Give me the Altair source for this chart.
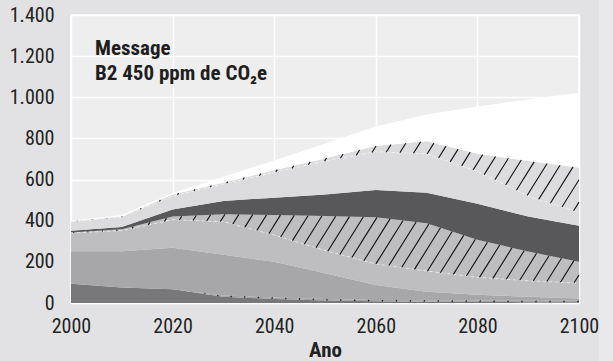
import numpy as np
import pandas as pd
import altair as alt

# ---- data -------------------------------------------------------------
years = [2000, 2010, 2020, 2030, 2040, 2050, 2060, 2070, 2080, 2090, 2100]

# layer thicknesses, bottom to top
camada_1 = [93, 75, 67, 30, 20, 12, 8, 6, 5, 4, 4]
camada_2 = [0, 0, 0, 6, 7, 7, 7, 7, 7, 7, 7]
camada_3 = [159, 177, 201, 198, 173, 126, 73, 42, 28, 19, 11]
camada_4 = [88, 100, 137, 161, 130, 110, 102, 100, 85, 78, 75]
camada_5 = [3, 6, 15, 37, 98, 168, 227, 233, 182, 142, 104]
camada_6 = [8, 12, 34, 64, 84, 105, 132, 148, 175, 170, 175]
camada_7 = [44, 48, 66, 82, 123, 162, 186, 189, 158, 100, 64]
camada_8 = [2, 2, 7, 7, 10, 13, 28, 61, 85, 170, 218]
camada_9 = [3, 8, 8, 29, 48, 72, 95, 130, 230, 300, 364]

layers = [camada_1, camada_2, camada_3, camada_4, camada_5,
          camada_6, camada_7, camada_8, camada_9]
names = [f"camada_{i + 1}" for i in range(len(layers))]
fills = ["#78787a", "#a2a2a4", "#a7a7a9", "#bebec0", "#bebec0",
         "#58585a", "#dcdcde", "#dcdcde", "#ffffff"]
hatched = {"camada_2", "camada_5", "camada_8"}

x_ticks = [2000, 2020, 2040, 2060, 2080, 2100]
y_ticks = [0, 200, 400, 600, 800, 1000, 1200, 1400]

FONT = "Roboto Condensed, Liberation Sans, sans-serif"
W, H = 508, 288
X_DOMAIN = [2000, 2100]
Y_DOMAIN = [0, 1400]

# ---- stacked boundaries ----------------------------------------------
arr = np.array(layers, dtype=float)
tops = np.cumsum(arr, axis=0)
bottoms = tops - arr

rows = []
for n, lo, hi in zip(names, bottoms, tops):
    for yr, a, b in zip(years, lo, hi):
        rows.append({"camada": n, "ano": yr, "lo": a, "hi": b})
area_df = pd.DataFrame(rows)

# ---- hatch lines ("/") clipped to a band ------------------------------
px_x = (X_DOMAIN[1] - X_DOMAIN[0]) / W
px_y = (Y_DOMAIN[1] - Y_DOMAIN[0]) / H
HATCH_RATIO = 1.6                      # rise over run in pixels
HATCH_STEP = 14 * px_x                 # horizontal spacing in years
slope = HATCH_RATIO * px_y / px_x      # value units per year


def hatch_segments(lo, hi, name):
    xs = np.linspace(X_DOMAIN[0], X_DOMAIN[1], 20001)
    lo_f = np.interp(xs, years, lo)
    hi_f = np.interp(xs, years, hi)
    segs = []
    start = X_DOMAIN[0] - hi.max() / slope
    for c in np.arange(start, X_DOMAIN[1], HATCH_STEP):
        yl = slope * (xs - c)
        inside = (yl >= lo_f) & (yl <= hi_f) & (hi_f - lo_f > 0.5)
        idx = np.flatnonzero(inside)
        if idx.size == 0:
            continue
        cuts = np.flatnonzero(np.diff(idx) > 1)
        starts = np.r_[idx[0], idx[cuts + 1]]
        ends = np.r_[idx[cuts], idx[-1]]
        for s, e in zip(starts, ends):
            if e > s:
                segs.append({"camada": name, "x": xs[s], "y": yl[s],
                             "x2": xs[e], "y2": yl[e]})
    return segs


hatch_rows = []
edge_rows = []
for n, lo, hi in zip(names, bottoms, tops):
    if n in hatched:
        hatch_rows += hatch_segments(lo, hi, n)
        if n != "camada_2":
            for yr, v in zip(years, lo):
                edge_rows.append({"camada": n, "ano": yr, "v": v})
hatch_df = pd.DataFrame(hatch_rows)
edge_df = pd.DataFrame(edge_rows)

# ---- chart ------------------------------------------------------------
x_enc = alt.X("ano:Q", scale=alt.Scale(domain=X_DOMAIN, nice=False, zero=False),
              axis=alt.Axis(values=x_ticks, format="d", title="Ano",
                            labelFlush=False, labelPadding=13, titlePadding=3))
y_enc = alt.Y("lo:Q", stack=None, scale=alt.Scale(domain=Y_DOMAIN, nice=False),
              axis=alt.Axis(values=y_ticks, title=None, labelPadding=17,
                            labelFlush=False,
                            labelExpr="replace(format(datum.value, ','), ',', '.')"))

# lighter strip along the right margin
strip = alt.Chart(pd.DataFrame({"k": [0]})).mark_rect(color="#e9e9eb").encode(
    x=alt.value(W + 20), x2=alt.value(W + 34), y=alt.value(-15), y2=alt.value(H + 58)
)

areas = alt.Chart(area_df).mark_area(interpolate="linear").encode(
    x=x_enc,
    y=y_enc,
    y2="hi:Q",
    color=alt.Color("camada:N", scale=alt.Scale(domain=names, range=fills), legend=None),
    detail="camada:N",
)

edges = alt.Chart(edge_df).mark_line(
    color="white", strokeWidth=0.8, strokeDash=[3, 3], opacity=0.7
).encode(x="ano:Q", y="v:Q", detail="camada:N")

hatch = alt.Chart(hatch_df).mark_rule(color="#111111", strokeWidth=1.1).encode(
    x="x:Q", y="y:Q", x2="x2:Q", y2="y2:Q"
)

label_df = pd.DataFrame({"t": ["Message", "B2 450 ppm de CO₂e"], "yy": [40, 65]})
label = alt.Chart(label_df).mark_text(
    align="left", baseline="alphabetic", font=FONT, fontSize=21,
    fontWeight="bold", color="#1e1e1e"
).encode(x=alt.value(24), y=alt.Y("yy:Q", scale=None), text="t:N")

chart = alt.layer(strip, areas, edges, hatch, label).properties(
    width=W, height=H,
    autosize=alt.AutoSizeParams(type="none"),
    padding={"left": 71, "top": 15, "right": 34, "bottom": 58},
    background="#e2e2e4",
).configure_view(
    fill="#eeeeee", stroke="white", strokeWidth=1.5
).configure_axis(
    grid=True, gridColor="white", gridWidth=1.5, domain=False, ticks=False,
    labelFont=FONT, labelFontSize=20, labelColor="#222222",
    titleFont=FONT, titleFontSize=21, titleFontWeight="bold", titleColor="#222222",
)

chart.save("out.html", embed_options={"renderer": "svg", "actions": False})
